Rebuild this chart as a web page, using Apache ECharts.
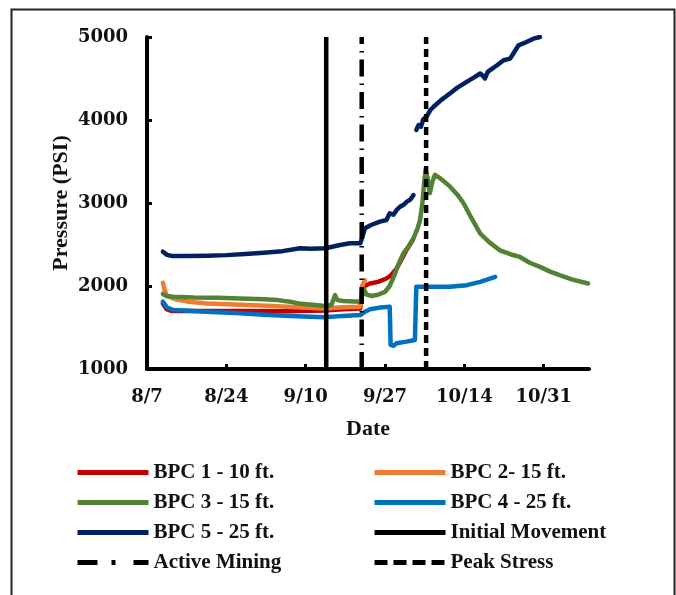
<!DOCTYPE html>
<html>
<head>
<meta charset="utf-8">
<script src="https://cdn.jsdelivr.net/npm/echarts@6/dist/echarts.min.js"></script>
<style>
html,body{margin:0;padding:0;background:#fff;}
#chart{width:676px;height:595px;}
</style>
</head>
<body>
<div id="chart"></div>
<script>
// x values are days after 8/7
const startMonth = 8, startDay = 7;
const xTickDays = [0, 17, 34, 51, 68, 85];
const yTicks = [1000, 2000, 3000, 4000, 5000];

const bpc1Days = [3.4, 4.2, 5.2, 8, 15, 25, 30, 38, 42, 45.7, 46.1, 46.6, 47.8, 49.5, 51.3, 52.3, 53.5, 55.6, 57];
const bpc1Psi  = [1790, 1720, 1700, 1700, 1700, 1698, 1695, 1705, 1720, 1730, 1960, 2000, 2030, 2050, 2090, 2130, 2213, 2434, 2560];

const bpc2Days = [3.4, 3.8, 4.3, 6, 9, 12.8, 20, 27, 33, 38.1, 42, 45.7, 46.1, 46.7];
const bpc2Psi  = [2040, 1950, 1880, 1840, 1810, 1790, 1775, 1760, 1740, 1730, 1745, 1750, 2000, 2070];

const bpc3Days = [3.4, 4.2, 5.6, 10, 15, 20, 25, 28, 30.7, 33, 36, 38.2, 39.5, 40.3, 40.8, 42, 45.7, 46.0, 46.5, 47.0, 48, 49.5, 51, 52, 53, 54, 55, 56, 57.1, 58, 58.5, 59.0, 59.4, 59.7, 60.1, 60.6, 61.1, 61.7, 63, 64.9, 66.5, 67.8, 69.5, 71.4, 73.5, 75.6, 78, 79.9, 82, 84.2, 86.5, 88.4, 91, 94.5];
const bpc3Psi  = [1904, 1880, 1870, 1860, 1858, 1850, 1840, 1830, 1810, 1785, 1770, 1760, 1770, 1890, 1830, 1820, 1810, 1800, 1960, 1900, 1880, 1895, 1930, 2000, 2130, 2280, 2400, 2470, 2575, 2700, 2795, 3000, 3250, 3400, 3300, 3120, 3250, 3340, 3290, 3200, 3100, 3000, 2820, 2630, 2520, 2430, 2380, 2350, 2280, 2230, 2170, 2130, 2080, 2030];

const bpc4Days = [3.4, 4.3, 5.7, 10, 15, 20, 25, 30.7, 35, 38.1, 42, 45.7, 46.2, 46.7, 47.8, 50, 52.0, 52.2, 52.8, 53.5, 55.6, 57.4, 57.7, 60, 62.8, 64.9, 68.5, 71.4, 74.6];
const bpc4Psi  = [1811, 1740, 1711, 1700, 1685, 1671, 1655, 1639, 1630, 1623, 1640, 1650, 1670, 1690, 1720, 1740, 1750, 1290, 1280, 1310, 1330, 1350, 1990, 1990, 1990, 1990, 2010, 2050, 2110];

const bpc5Days = [3.4, 4.3, 5.5, 9, 13, 17, 21, 25, 29, 32.8, 35, 38.2, 41.4, 43.5, 45.7, 46.2, 46.7, 48, 49.9, 51.3, 52, 52.8, 53.5, 54.2, 55, 55.7, 56.4, 57.1,
                  57.4,
                  57.7, 58.2, 58.7, 59.2, 59.9, 60.7, 61.4, 63, 64.9, 66.5, 68.5, 70, 71.4, 72.0, 72.4, 73.0, 73.5, 75, 76.4, 77.8, 78.7, 79.6, 81.3, 82.8, 84.2];
const bpc5Psi  = [2413, 2375, 2360, 2360, 2365, 2372, 2385, 2400, 2420, 2454, 2450, 2454, 2494, 2514, 2514, 2600, 2695, 2735, 2775, 2795, 2876, 2860, 2916, 2955, 2980, 3016, 3040, 3096,
                  null,
                  3880, 3940, 3920, 4010, 4040, 4120, 4160, 4240, 4320, 4390, 4460, 4510, 4560, 4530, 4500, 4580, 4600, 4660, 4720, 4740, 4820, 4900, 4940, 4980, 5000];

const initialMovementDay = 38.4;
const activeMiningDay = 46.0;
const peakStressDay = 59.8;

const seriesNames = ['BPC 1 - 10 ft.', 'BPC 2- 15 ft.', 'BPC 3 - 15 ft.', 'BPC 4 - 25 ft.', 'BPC 5 - 25 ft.', 'Initial Movement', 'Active Mining', 'Peak Stress'];
const colors = ['#C00000', '#ED7D31', '#548235', '#0070C0', '#002060', '#000000', '#000000', '#000000'];

function pairs(xs, ys) { return xs.map((x, i) => [x, ys[i] === null ? '-' : ys[i]]); }
function vline(d) { return [[d, yTicks[0]], [d, yTicks[yTicks.length - 1]]]; }

function dayLabel(v) {
  const dt = new Date(2014, startMonth - 1, startDay + Math.round(v));
  return (dt.getMonth() + 1) + '/' + dt.getDate();
}

const serifBold = '"Liberation Serif", "Times New Roman", serif';
const tickFont = '"DejaVu Serif", serif';

const dataSets = [pairs(bpc1Days, bpc1Psi), pairs(bpc2Days, bpc2Psi), pairs(bpc3Days, bpc3Psi), pairs(bpc4Days, bpc4Psi), pairs(bpc5Days, bpc5Psi)];

const series = dataSets.map((d, i) => ({
  name: seriesNames[i], type: 'line', data: d, symbol: 'none', smooth: false,
  lineStyle: { color: colors[i], width: 4.5, cap: 'round', join: 'round' },
  itemStyle: { color: colors[i] },
  connectNulls: false
}));
series.push({
  name: 'Initial Movement', type: 'line', data: vline(initialMovementDay), symbol: 'none',
  lineStyle: { color: '#000', width: 4.5 }, itemStyle: { color: '#000' }
});
series.push({
  name: 'Active Mining', type: 'line', data: vline(activeMiningDay), symbol: 'none',
  lineStyle: { color: '#000', width: 4.5, type: [17, 7, 1.5, 7] }, itemStyle: { color: '#000' }
});
series.push({
  name: 'Peak Stress', type: 'line', data: vline(peakStressDay), symbol: 'none',
  lineStyle: { color: '#000', width: 4.5, type: [8, 5] }, itemStyle: { color: '#000' }
});

const legendCommon = {
  orient: 'vertical', top: 462, padding: 0, itemWidth: 71, itemHeight: 20, itemGap: 9,
  textStyle: { fontFamily: serifBold, fontWeight: 'bold', fontSize: 21, color: '#111', lineHeight: 20, height: 20 },
  itemStyle: { color: 'rgba(0,0,0,0)', borderColor: 'rgba(0,0,0,0)', borderWidth: 0 },
  lineStyle: { width: 5, cap: 'butt' },
  selectedMode: false
};

const chart = echarts.init(document.getElementById('chart'), null, { renderer: 'canvas' });
chart.setOption({
  animation: false,
  backgroundColor: '#fff',
  color: colors,
  graphic: [{
    type: 'rect', left: 9, top: 7, silent: true,
    shape: { width: 663, height: 600 },
    style: { fill: 'none', stroke: '#222', lineWidth: 2 }
  }],
  grid: { left: 147, top: 37, right: 87, bottom: 226, containLabel: false },
  xAxis: {
    type: 'value', min: 0, max: 94.7,
    name: 'Date', nameLocation: 'middle', nameGap: 49,
    nameTextStyle: { fontFamily: serifBold, fontWeight: 'bold', fontSize: 22, color: '#111' },
    axisLine: { show: true, lineStyle: { color: '#000', width: 4 } },
    axisTick: { show: true, inside: true, length: 5, lineStyle: { color: '#000', width: 3 }, customValues: xTickDays },
    axisLabel: { customValues: xTickDays, formatter: dayLabel, margin: 19, fontFamily: tickFont, fontWeight: 'bold', fontSize: 18, color: '#111' },
    splitLine: { show: false }
  },
  yAxis: {
    type: 'value', min: yTicks[0], max: yTicks[yTicks.length - 1], interval: 1000,
    name: 'Pressure (PSI)', nameLocation: 'middle', nameGap: 75, nameMoveOverlap: false,
    nameTextStyle: { fontFamily: serifBold, fontWeight: 'bold', fontSize: 22, color: '#111' },
    axisLine: { show: true, lineStyle: { color: '#000', width: 4 } },
    axisTick: { show: true, inside: true, length: 5, lineStyle: { color: '#000', width: 3 } },
    axisLabel: { margin: 19, formatter: v => String(v), fontFamily: tickFont, fontWeight: 'bold', fontSize: 18, color: '#111' },
    splitLine: { show: false }
  },
  legend: [
    Object.assign({}, legendCommon, { left: 75, data: [
      'BPC 1 - 10 ft.', 'BPC 3 - 15 ft.', 'BPC 5 - 25 ft.',
      { name: 'Active Mining', lineStyle: { type: [20, 14, 4, 18], width: 5 } }
    ] }),
    Object.assign({}, legendCommon, { left: 372, data: [
      'BPC 2- 15 ft.', 'BPC 4 - 25 ft.', 'Initial Movement',
      { name: 'Peak Stress', lineStyle: { type: [13, 6], width: 5 } }
    ] })
  ],
  series: series
});
</script>
</body>
</html>
